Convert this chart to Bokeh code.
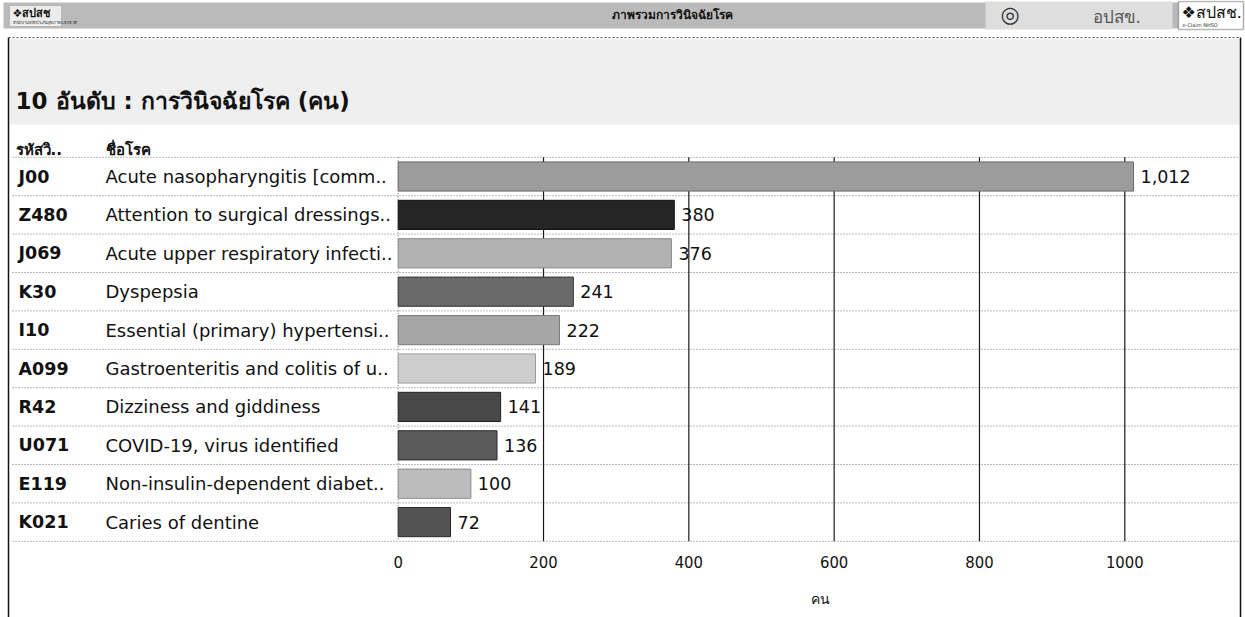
from bokeh.plotting import figure
from bokeh.models import Range1d, FixedTicker, BoxAnnotation, NumeralTickFormatter
from bokeh.core.properties import value
from bokeh.embed import file_html
from bokeh.resources import INLINE

# ---------------- data ----------------
codes = ["J00", "Z480", "J069", "K30", "I10", "A099", "R42", "U071", "E119", "K021"]
names = [
    "Acute nasopharyngitis [comm..",
    "Attention to surgical dressings..",
    "Acute upper respiratory infecti..",
    "Dyspepsia",
    "Essential (primary) hypertensi..",
    "Gastroenteritis and colitis of u..",
    "Dizziness and giddiness",
    "COVID-19, virus identified",
    "Non-insulin-dependent diabet..",
    "Caries of dentine",
]
counts = [1012, 380, 376, 241, 222, 189, 141, 136, 100, 72]
tick_values = [0, 200, 400, 600, 800, 1000]
axis_title = "คน"

# ---------------- styles ----------------
bar_colors = ["#9c9c9c", "#262626", "#b2b2b2", "#6a6a6a", "#a6a6a6",
              "#cdcdcd", "#484848", "#5a5a5a", "#bcbcbc", "#535353"]
bar_lines = ["#6a6a6a", "#111111", "#8a8a8a", "#333333", "#7a7a7a",
             "#9a9a9a", "#222222", "#2a2a2a", "#8c8c8c", "#2a2a2a"]

# ---------------- layout (pixel constants -> data) ----------------
W, H = 1245, 617
ZERO_PX = 397.7
PX_PER_UNIT = 0.7266
ROW0_PX = 176.0
ROW_PX = 38.4


def xd(px):
    return (px - ZERO_PX) / PX_PER_UNIT


def yd(py):
    return (py - ROW0_PX) / ROW_PX


rows = list(range(len(codes)))
n = len(rows)

p = figure(width=W, height=H, title=None,
           x_range=Range1d(xd(0), xd(W)), y_range=Range1d(yd(H), yd(0)),
           output_backend="svg", toolbar_location=None,
           min_border_left=0, min_border_right=0, min_border_top=0, min_border_bottom=0)
p.outline_line_color = None
p.grid.visible = False
p.yaxis.visible = False
p.background_fill_color = "white"
p.border_fill_color = "white"

FONT = value("DejaVu Sans")

# header band
p.add_layout(BoxAnnotation(left=xd(3), right=xd(1243), top=yd(2), bottom=yd(28),
                           fill_color="#bababa", fill_alpha=1, line_color=None, level="underlay"))
# left logo box
p.add_layout(BoxAnnotation(left=xd(9), right=xd(61), top=yd(5), bottom=yd(26),
                           fill_color="#ececec", fill_alpha=1, line_color="#777777", line_width=1,
                           level="underlay"))
# right logo boxes
p.add_layout(BoxAnnotation(left=xd(985), right=xd(1172), top=yd(1), bottom=yd(29),
                           fill_color="#dedede", fill_alpha=1, line_color=None, level="underlay"))
p.add_layout(BoxAnnotation(left=xd(1178), right=xd(1243), top=yd(1), bottom=yd(29),
                           fill_color="white", fill_alpha=1, line_color="#111111", line_width=1.5,
                           level="underlay"))
# panel title area
p.add_layout(BoxAnnotation(left=xd(9), right=xd(1239), top=yd(38), bottom=yd(124),
                           fill_color="#efefef", fill_alpha=1, line_color=None, level="underlay"))

# panel borders
p.segment(x0=[xd(8), xd(1240)], y0=[yd(37), yd(37)], x1=[xd(8), xd(1240)], y1=[yd(H), yd(H)],
          line_color="#111111", line_width=1.5)
p.segment(x0=[xd(8)], y0=[yd(37)], x1=[xd(1240)], y1=[yd(37)],
          line_color="#555555", line_width=1, line_dash="2 2")

# header texts
p.text(x=[xd(12)], y=[yd(13)], text=["❖สปสช"], text_font=FONT, text_font_size="11px",
       text_font_style="bold", text_baseline="middle", text_color="#111111")
p.text(x=[xd(12)], y=[yd(22)], text=["สำนักงานหลักประกันสุขภาพแห่งชาติ"], text_font=FONT,
       text_font_size="4px", text_baseline="middle", text_color="#333333")
p.text(x=[xd(672)], y=[yd(14)], text=["ภาพรวมการวินิจฉัยโรค"], text_font=FONT, text_font_size="12px",
       text_font_style="bold", text_align="center", text_baseline="middle", text_color="#111111")
p.text(x=[xd(1000)], y=[yd(14)], text=["◎"], text_font=FONT, text_font_size="22px",
       text_baseline="middle", text_color="#333333")
p.text(x=[xd(1092)], y=[yd(16)], text=["อปสข."], text_font=FONT, text_font_size="17px",
       text_baseline="middle", text_color="#555555")
p.text(x=[xd(1181)], y=[yd(12)], text=["❖สปสช."], text_font=FONT, text_font_size="16px",
       text_baseline="middle", text_color="#111111")
p.text(x=[xd(1182)], y=[yd(24)], text=["e-Claim NHSO"], text_font=FONT,
       text_font_size="5px", text_baseline="middle", text_color="#333333")

# panel title and column headers
p.text(x=[xd(15)], y=[yd(100)], text=["10 อันดับ : การวินิจฉัยโรค (คน)"], text_font=FONT,
       text_font_size="23px", text_font_style="bold", text_baseline="middle", text_color="#111111")
p.text(x=[xd(15), xd(105)], y=[yd(149), yd(149)], text=["รหัสวิ..", "ชื่อโรค"], text_font=FONT,
       text_font_size="15px", text_font_style="bold", text_baseline="middle", text_color="#111111")

# row separators
bounds = [r - 0.5 for r in rows] + [rows[-1] + 0.5]
p.segment(x0=[xd(12)] * len(bounds), y0=bounds, x1=[xd(1238)] * len(bounds), y1=bounds,
          line_color="#777777", line_width=1, line_dash="1 2")

# vertical grid lines
p.segment(x0=tick_values[1:], y0=[bounds[0]] * (len(tick_values) - 1),
          x1=tick_values[1:], y1=[bounds[-1]] * (len(tick_values) - 1),
          line_color="#1a1a1a", line_width=1.2)
p.segment(x0=[0], y0=[bounds[0]], x1=[0], y1=[bounds[-1]],
          line_color="#666666", line_width=1, line_dash="1 2")

# table text
p.text(x=[xd(18)] * n, y=rows, text=codes, text_font=FONT, text_font_size="17.5px",
       text_font_style="bold", text_baseline="middle", text_color="#111111")
p.text(x=[xd(105)] * n, y=rows, text=names, text_font=FONT, text_font_size="18px",
       text_baseline="middle", text_color="#111111")

# bars
p.hbar(y=rows, left=0, right=counts, height=0.76, fill_color=bar_colors,
       line_color=bar_lines, line_width=1)

# value labels
p.text(x=counts, y=rows, text=[f"{c:,}" for c in counts], x_offset=7, text_font=FONT,
       text_font_size="17.5px", text_baseline="middle", text_color="#111111")

# x axis
ax = p.xaxis[0]
ax.fixed_location = bounds[-1]
ax.ticker = FixedTicker(ticks=tick_values)
ax.formatter = NumeralTickFormatter(format="0")
ax.axis_line_color = None
ax.major_tick_line_color = None
ax.minor_tick_line_color = None
ax.major_label_standoff = 9
ax.major_label_text_font = "DejaVu Sans Condensed"
ax.major_label_text_font_size = "16.5px"
ax.major_label_text_color = "#111111"

# axis title, centred under the bar pane
p.text(x=[xd(820)], y=[yd(598)], text=[axis_title], text_font=FONT, text_font_size="14px",
       text_align="center", text_baseline="middle", text_color="#111111")

open("out.html", "w").write(file_html(p, INLINE))
